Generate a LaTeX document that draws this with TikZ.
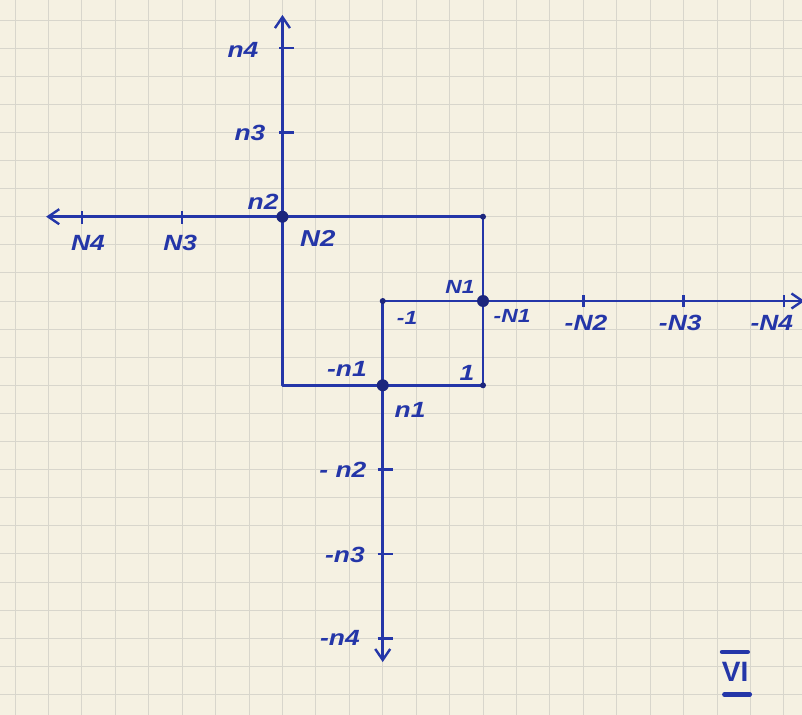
\documentclass[tikz,border=0pt]{standalone}
\usepackage{fontspec}
\setmainfont{Liberation Sans}
\usetikzlibrary{arrows.meta}
\definecolor{paper}{RGB}{245,241,226}
\definecolor{gridc}{RGB}{216,214,204}
\definecolor{ink}{RGB}{36,54,168}
\definecolor{dotc}{RGB}{28,38,125}
\begin{document}
\begin{tikzpicture}[x=33.43pt,y=-28.1pt,
  axis/.style={ink, line width=2.7pt, line cap=round},
  frame/.style={ink, line width=2.7pt, line join=round},
  tickm/.style={ink, line width=2.6pt},
  lbl/.style={ink, font=\fontsize{22}{22}\selectfont\bfseries\itshape, inner sep=0pt, xscale=1.2},
  bigdot/.style={circle, fill=dotc, minimum size=12pt, inner sep=0pt},
  smalldot/.style={circle, fill=dotc, minimum size=6pt, inner sep=0pt},
  barb/.style={-{Straight Barb[length=11pt,width=15pt,line width=2.4pt]}},
  bar/.style={ink, line width=4.5pt, line cap=round}
]
\useasboundingbox[fill=paper] (-0.4487,-0.7117) rectangle (23.542,24.733);
% grid paper
\foreach \i in {0,...,23} \draw[gridc, line width=0.9pt] (\i,-0.7117) -- (\i,24.733);
\foreach \j in {0,...,24} \draw[gridc, line width=0.9pt] (-0.4487,\j) -- (23.542,\j);

% key points
\coordinate (O) at (8,7);
\coordinate (A) at (14,7);
\coordinate (B) at (14,10);
\coordinate (C) at (14,13);
\coordinate (D) at (11,13);
\coordinate (E) at (8,13);
\coordinate (F) at (11,10);
\coordinate (topend) at (8,-0.18);
\coordinate (leftend) at (0.93,7);
\coordinate (rightend) at (23.62,10);
\coordinate (botend) at (11,22.85);

% frames
\draw[frame] (O) -- (A) -- (C) -- (E) -- cycle;
\draw[frame] (B) -- (F) -- (D);

% axes
\draw[axis, barb] (O) -- (topend);
\draw[axis, barb] (O) -- (leftend);
\draw[axis, barb] (B) -- (rightend);
\draw[axis, barb] (D) -- (botend);

% ticks
\foreach \j in {1,4} \draw[tickm] (7.9,\j) -- (8.35,\j);
\foreach \i in {2,5} \draw[tickm] (\i,6.8) -- (\i,7.25);
\foreach \i in {17,20,23} \draw[tickm] (\i,9.78) -- (\i,10.2);
\foreach \j in {16,19,22} \draw[tickm] (10.85,\j) -- (11.3,\j);

% dots
\node[bigdot] (dO) at (O) {};
\node[bigdot] (dB) at (B) {};
\node[bigdot] (dD) at (D) {};
\node[smalldot] (dA) at (A) {};
\node[smalldot] (dC) at (C) {};
\node[smalldot] (dF) at (F) {};

% labels
\node[lbl] (ln4) at (6.82,1.07) {n4};
\node[lbl] (ln3) at (7.03,4.02) {n3};
\node[lbl] (ln2) at (7.42,6.48) {n2};
\node[lbl, font=\fontsize{23}{23}\selectfont\bfseries\itshape] (lN2) at (9.06,7.76) {N2};
\node[lbl] (lN4) at (2.18,7.94) {N4};
\node[lbl] (lN3) at (4.94,7.94) {N3};
\node[lbl, font=\fontsize{19}{19}\selectfont\bfseries\itshape] (lN1) at (13.31,9.5) {N1};
\node[lbl, font=\fontsize{19}{19}\selectfont\bfseries\itshape] (lmN1) at (14.87,10.53) {-N1};
\node[lbl] (lmN2) at (17.08,10.78) {-N2};
\node[lbl] (lmN3) at (19.9,10.78) {-N3};
\node[lbl] (lmN4) at (22.64,10.78) {-N4};
\node[lbl, font=\fontsize{19}{19}\selectfont\bfseries\itshape] (lm1) at (11.73,10.6) {-1};
\node[lbl] (l1) at (13.52,12.56) {1};
\node[lbl] (lmn1) at (9.93,12.42) {-n1};
\node[lbl] (ln1) at (11.82,13.88) {n1};
\node[lbl] (lmn2) at (9.81,16.0) {- n2};
\node[lbl] (lmn3) at (9.87,19.04) {-n3};
\node[lbl] (lmn4) at (9.72,22.0) {-n4};

% page number
\node[ink, font=\fontsize{28}{28}\selectfont\bfseries, inner sep=0pt] (vi) at (21.54,23.2) {VI};
\draw[bar] (21.15,22.49) -- (21.92,22.49);
\draw[bar] (21.22,24.0) -- (21.98,24.0);
\end{tikzpicture}
\end{document}
